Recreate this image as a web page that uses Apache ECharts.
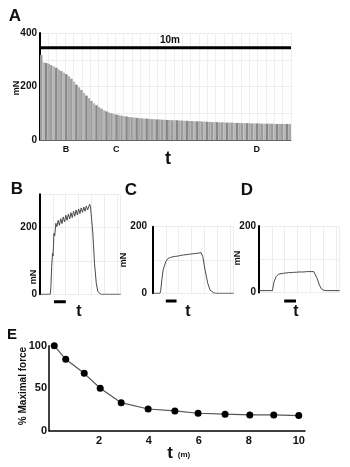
<!DOCTYPE html>
<html>
<head>
<meta charset="utf-8">
<script src="https://cdn.jsdelivr.net/npm/echarts@6/dist/echarts.min.js"></script>
<style>
  html, body { margin: 0; padding: 0; background: #fff; }
  #chart { width: 350px; height: 467px; }
</style>
</head>
<body>
<div id="chart"></div>
<script>
// panel A: peak force of each contraction, one every 0.1 min over 10 min
const aStep = 0.1
const aForce = [
  318, 290, 288, 285, 280, 275, 270, 263, 258, 252,
  246, 238, 229, 218, 207, 197, 187, 176, 166, 156,
  146, 137, 130, 123, 117, 111, 107, 103, 100, 97,
  95, 93, 91, 89, 88, 86, 85, 84, 83, 82,
  81, 80, 80, 79, 78, 78, 77, 77, 76, 76,
  75, 75, 74, 74, 74, 73, 73, 72, 72, 71,
  71, 70, 70, 70, 69, 69, 68, 68, 67, 67,
  67, 66, 66, 66, 65, 65, 65, 64, 64, 64,
  63, 63, 63, 63, 62, 62, 62, 62, 61, 61,
  61, 61, 61, 60, 60, 60, 60, 60, 60, 60
]
const aDuration = [[0, 345], [10, 345]]
const aMarks = [['B', 1.04], ['C', 3.04], ['D', 8.64]]

// panels B, C, D: single contraction traces [t, mN]
const traceB = [
  [0, 0], [0.8, 0], [0.85, 20], [0.91, 83], [0.98, 123], [1.02, 115], [1.09, 183], [1.15, 175],
  [1.24, 213], [1.32, 203], [1.42, 222], [1.52, 207], [1.62, 227], [1.72, 212], [1.82, 232],
  [1.92, 217], [2.02, 237], [2.12, 222], [2.22, 241], [2.32, 226], [2.42, 245], [2.52, 230],
  [2.62, 249], [2.72, 234], [2.82, 253], [2.92, 238], [3.02, 256], [3.12, 242], [3.22, 259],
  [3.32, 246], [3.42, 262], [3.52, 249], [3.62, 265], [3.72, 253], [3.88, 270], [3.95, 262],
  [4.13, 183], [4.26, 93], [4.4, 33], [4.52, 8], [4.78, 0], [6.3, 0]
]
const traceC = [
  [0, 0], [0.55, 0], [0.6, 8], [0.69, 40], [0.79, 70], [1.0, 95], [1.18, 105], [1.28, 100],
  [1.38, 108], [1.48, 102], [1.58, 110], [1.68, 104], [1.78, 111], [1.88, 105], [1.98, 112],
  [2.08, 107], [2.18, 114], [2.28, 108], [2.38, 115], [2.48, 110], [2.58, 116], [2.68, 111],
  [2.78, 117], [2.88, 112], [2.98, 118], [3.08, 113], [3.18, 119], [3.28, 114], [3.38, 120],
  [3.48, 115], [3.6, 121], [3.76, 122], [3.89, 110], [4.07, 70], [4.28, 30], [4.46, 10],
  [4.72, 2], [4.9, 0], [6.3, 0]
]
const traceD = [
  [0, 6], [1.05, 6], [1.08, 13], [1.18, 33], [1.34, 48], [1.52, 55], [1.62, 52], [1.72, 57],
  [1.82, 54], [1.92, 58], [2.02, 55], [2.12, 59], [2.22, 56], [2.32, 60], [2.42, 57], [2.52, 60],
  [2.62, 58], [2.72, 61], [2.82, 58], [2.92, 61], [3.02, 59], [3.12, 62], [3.22, 59], [3.32, 62],
  [3.42, 60], [3.52, 62], [3.62, 60], [3.72, 63], [3.82, 61], [3.92, 63], [4.05, 62], [4.28, 63],
  [4.41, 60], [4.54, 43], [4.72, 23], [4.88, 11], [5.06, 7], [5.3, 6], [6.3, 6]
]
const stimB = [[1.09, -22], [2.02, -22]]
const stimC = [[1.0, -23], [1.84, -23]]
const stimD = [[1.97, -25], [2.89, -25]]

// panel E: % of maximal force against time (min)
const eTime = [0.21, 0.67, 1.41, 2.05, 2.89, 3.97, 5.04, 5.97, 7.05, 8.04, 9.0, 10.0]
const ePercent = [100, 84, 67.5, 50, 33, 25.5, 23.3, 20.5, 19.4, 18.6, 18.6, 17.8]

const FONT = 'Liberation Sans, Arial, sans-serif'
const barShades = ['#9c9c9c', '#b6b6b6', '#878787', '#a9a9a9']

const chart = echarts.init(document.getElementById('chart'), null, { renderer: 'canvas' })

function label(text, x, y, size, rotate) {
  return {
    type: 'text', x: x, y: y, rotation: rotate ? Math.PI / 2 : 0, z: 100,
    style: {
      text: text, fill: '#111', font: 'bold ' + size + 'px ' + FONT,
      align: 'center', verticalAlign: 'middle'
    }
  }
}

const tickLabel = { fontFamily: FONT, fontWeight: 'bold', fontSize: 10, color: '#111', margin: 3 }
const faint = { show: true, lineStyle: { color: '#ececec', width: 1 } }

function traceX(idx) {
  return {
    type: 'value', gridIndex: idx, min: 0, max: 6.3, interval: 1,
    axisLine: { show: false }, axisTick: { show: false }, axisLabel: { show: false },
    splitLine: faint
  }
}
function traceY(idx, max, offset) {
  return {
    type: 'value', gridIndex: idx, min: 0, max: max, interval: 100, offset: offset || 0,
    axisLine: { show: true, lineStyle: { color: '#000', width: 2 } },
    axisTick: { show: false },
    axisLabel: Object.assign({}, tickLabel, { formatter: v => (v % 200 === 0 ? v : '') }),
    splitLine: faint
  }
}
function traceSeries(idx, data) {
  return {
    type: 'line', xAxisIndex: idx, yAxisIndex: idx, data: data, symbol: 'none',
    lineStyle: { color: '#4a4a4a', width: 1 }, silent: true, animation: false
  }
}
function stimSeries(idx, data) {
  return {
    type: 'line', xAxisIndex: idx, yAxisIndex: idx, data: data, symbol: 'none', clip: false,
    lineStyle: { color: '#000', width: 3 }, silent: true, animation: false
  }
}

// panel A grid, reused for the B/C/D markers under its x axis
const gridA = { left: 40, top: 33, width: 251, height: 107 }

chart.setOption({
  backgroundColor: '#fff',
  animation: false,
  grid: [
    Object.assign({ outerBoundsMode: 'none' }, gridA),
    { left: 40, top: 194.3, width: 80.6, height: 100, outerBoundsMode: 'none' },
    { left: 153, top: 226.7, width: 80.6, height: 66.6, outerBoundsMode: 'none' },
    { left: 259, top: 226, width: 80.6, height: 66.6, outerBoundsMode: 'none' },
    { left: 49, top: 345.7, width: 256, height: 85, outerBoundsMode: 'none' }
  ],
  xAxis: [
    {
      type: 'value', gridIndex: 0, min: 0, max: 10, interval: 1 / 3,
      axisLine: { show: true, onZero: false, lineStyle: { color: '#666', width: 1 } },
      axisTick: { show: false }, axisLabel: { show: false },
      splitLine: { show: true, lineStyle: { color: '#efefef', width: 1 } }
    },
    traceX(1),
    traceX(2),
    traceX(3),
    {
      type: 'value', gridIndex: 4, min: 0, max: 10.25, interval: 2,
      axisLine: { show: true, lineStyle: { color: '#000', width: 1.5 } },
      axisTick: { show: false },
      axisLabel: Object.assign({}, tickLabel, { fontSize: 11, margin: 5, formatter: v => (v === 0 ? '' : v) }),
      splitLine: { show: false }
    }
  ],
  yAxis: [
    {
      type: 'value', gridIndex: 0, min: 0, max: 400, interval: 100,
      axisLine: { show: true, lineStyle: { color: '#000', width: 2 } },
      axisTick: { show: false },
      axisLabel: Object.assign({}, tickLabel, { formatter: v => (v % 200 === 0 ? v : '') }),
      splitLine: { show: true, lineStyle: { color: '#ececec', width: 1 } }
    },
    traceY(1, 300),
    traceY(2, 200, 3),
    traceY(3, 200),
    {
      type: 'value', gridIndex: 4, min: 0, max: 100, interval: 50,
      axisLine: { show: true, lineStyle: { color: '#000', width: 1.5 } },
      axisTick: { show: false },
      axisLabel: Object.assign({}, tickLabel, { fontSize: 11, margin: 2 }),
      splitLine: { show: false }
    }
  ],
  series: [
    {
      type: 'bar', xAxisIndex: 0, yAxisIndex: 0, barWidth: 2.5,
      data: aForce.map((v, i) => ({
        value: [i * aStep + aStep / 2, v],
        itemStyle: { color: barShades[i % barShades.length] }
      })),
      silent: true, animation: false
    },
    {
      type: 'line', xAxisIndex: 0, yAxisIndex: 0, data: aDuration, symbol: 'none',
      lineStyle: { color: '#000', width: 3 }, silent: true, animation: false, z: 5
    },
    traceSeries(1, traceB),
    traceSeries(2, traceC),
    traceSeries(3, traceD),
    stimSeries(1, stimB),
    stimSeries(2, stimC),
    stimSeries(3, stimD),
    {
      type: 'line', xAxisIndex: 4, yAxisIndex: 4,
      data: eTime.map((t, i) => [t, ePercent[i]]),
      symbol: 'circle', symbolSize: 7,
      itemStyle: { color: '#000' },
      lineStyle: { color: '#555', width: 1.2 },
      silent: true, animation: false
    }
  ],
  graphic: [
    label('A', 15, 16, 17),
    label('B', 17, 189, 17),
    label('C', 131, 190, 17),
    label('D', 247, 190, 17),
    label('E', 12, 335, 15),
    label('10m', 170, 40, 10),
    label('mN', 17, 88, 9, true),
    label('mN', 34, 277, 9, true),
    label('mN', 124, 260, 9, true),
    label('mN', 238, 258, 9, true),
    label('% Maximal force', 23, 386, 10, true),
    label('t', 168, 159, 18),
    label('t', 79, 312, 16),
    label('t', 188, 312, 16),
    label('t', 296, 312, 16),
    label('t', 170, 453, 17),
    label('(m)', 184, 455, 8)
  ].concat(aMarks.map(m => label(m[0], gridA.left + m[1] * gridA.width / 10, 149.5, 9)))
})
</script>
</body>
</html>
